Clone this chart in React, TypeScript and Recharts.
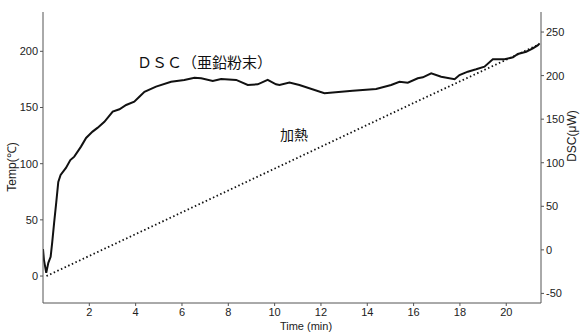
import React from 'react';
import { LineChart, Line, XAxis, YAxis, Customized } from 'recharts';

const timeTicks = [2, 4, 6, 8, 10, 12, 14, 16, 18, 20];
const tempTicks = [0, 50, 100, 150, 200];
const dscTicks = [-50, 0, 50, 100, 150, 200, 250];

const dscTime = [0, 0.04, 0.14, 0.23, 0.33, 0.4, 0.48, 0.57, 0.66, 0.76, 0.99, 1.18, 1.35, 1.64, 1.86, 2.14, 2.35, 2.65, 3.01, 3.3, 3.59, 3.94, 4.16, 4.38, 4.88, 5.53, 6.1, 6.54, 6.83, 7.33, 7.69, 8.34, 8.84, 9.27, 9.7, 10.06, 10.21, 10.64, 11.07, 12.15, 13.37, 14.38, 15.03, 15.39, 15.75, 16.18, 16.4, 16.76, 17.19, 17.77, 17.98, 18.34, 18.7, 19.06, 19.42, 19.93, 20.29, 20.5, 20.86, 21.15, 21.37, 21.44];
const dscValue = [1, -11.5, -26.4, -14.9, -8, 9.2, 31, 54, 78, 86, 94, 103, 107, 118.5, 128.4, 135.7, 140, 147, 158.6, 161.4, 166.3, 170, 175.8, 181.5, 187.3, 193, 195, 197.6, 197, 193.8, 196, 195, 189.2, 190, 195, 190, 189.2, 192, 189.2, 179.7, 182.7, 184.6, 189.2, 193, 191.9, 197, 198, 202.6, 198.7, 195.8, 200.7, 204.5, 207.2, 210.2, 218.7, 218.7, 221, 224.8, 227.4, 231.3, 235, 237];

const heatTime = [0.15, 5, 11.07, 16, 21.4];
const heatTemp = [0, 47, 106, 154, 206];

const dscData = dscTime.map((t, i) => ({ t, dsc: dscValue[i] }));
const heatData = heatTime.map((t, i) => ({ t, temp: heatTemp[i] }));

const FONT = 'Liberation Sans, Arial, sans-serif';
const CJK = '"Noto Sans CJK JP", sans-serif';
const AXIS = '#555';

const Labels = () => (
  <g>
    <text x={16} y={167} transform="rotate(-90 16 167)" textAnchor="middle" fontFamily={FONT} fontSize={12} fill="#222">Temp(℃)</text>
    <text x={576} y={136} transform="rotate(-90 576 136)" textAnchor="middle" fontFamily={FONT} fontSize={12} fill="#222">DSC(μW)</text>
    <text x={306} y={330} textAnchor="middle" fontFamily={FONT} fontSize={11} fill="#222">Time (min)</text>
    <text x={137} y={68} fontFamily={CJK} fontSize={15} fill="#111">ＤＳＣ（亜鉛粉末）</text>
    <text x={280} y={140} fontFamily={CJK} fontSize={14} fill="#111">加熱</text>
  </g>
);

export default function App() {
  return (
    <div style={{ position: 'absolute', left: 0, top: 0, width: 583, height: 336, background: '#fff' }}>
      <LineChart width={583} height={336} margin={{ top: 12, right: 8, bottom: 8, left: 8 }}>
        <XAxis
          dataKey="t"
          type="number"
          domain={[0, 21.5]}
          ticks={timeTicks}
          allowDataOverflow
          stroke={AXIS}
          tickSize={3}
          height={25}
          tick={{ fontFamily: FONT, fontSize: 11, fill: '#222' }}
        />
        <YAxis
          yAxisId="temp"
          type="number"
          domain={[-24, 235]}
          ticks={tempTicks}
          allowDataOverflow
          stroke={AXIS}
          tickSize={3}
          width={35}
          tick={{ fontFamily: FONT, fontSize: 11, fill: '#222' }}
        />
        <YAxis
          yAxisId="dsc"
          orientation="right"
          type="number"
          domain={[-61, 273]}
          ticks={dscTicks}
          allowDataOverflow
          stroke={AXIS}
          tickSize={3}
          width={34}
          tick={{ fontFamily: FONT, fontSize: 11, fill: '#222' }}
        />
        <Line
          yAxisId="temp"
          data={heatData}
          dataKey="temp"
          type="linear"
          stroke="#111"
          strokeWidth={1.8}
          strokeDasharray="1.5 2.5"
          dot={false}
          isAnimationActive={false}
        />
        <Line
          yAxisId="dsc"
          data={dscData}
          dataKey="dsc"
          type="linear"
          stroke="#111"
          strokeWidth={2}
          dot={false}
          isAnimationActive={false}
        />
        <Customized component={Labels} />
      </LineChart>
    </div>
  );
}
